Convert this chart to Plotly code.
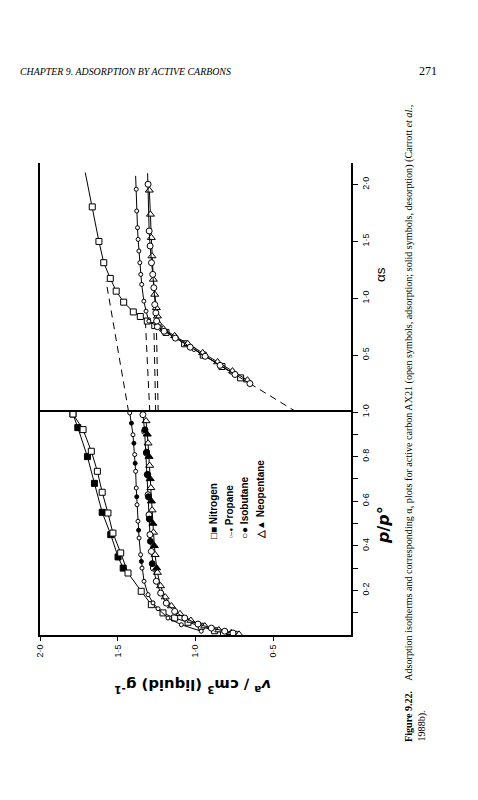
import plotly.graph_objects as go

# ---------------- data ----------------
# Isotherms: relative pressure p/p0 vs adsorbed volume v (cm3 liquid / g)
n2_ads_p = [0.003, 0.010, 0.019, 0.039, 0.057, 0.076, 0.099, 0.136, 0.196, 0.278, 0.368, 0.457, 0.547, 0.640, 0.734, 0.824, 0.921, 0.991]
n2_ads_v = [0.75, 0.82, 0.877, 0.963, 1.048, 1.134, 1.209, 1.284, 1.349, 1.434, 1.481, 1.531, 1.563, 1.600, 1.631, 1.670, 1.723, 1.788]
n2_des_p = [0.300, 0.350, 0.450, 0.550, 0.680, 0.800, 0.930, 0.991]
n2_des_v = [1.465, 1.498, 1.545, 1.600, 1.650, 1.695, 1.757, 1.788]

c3_ads_p = [0.017, 0.046, 0.076, 0.118, 0.144, 0.181, 0.241, 0.300, 0.360, 0.435, 0.510, 0.584, 0.659, 0.734, 0.809, 0.898, 0.996]
c3_ads_v = [0.963, 1.091, 1.177, 1.241, 1.273, 1.305, 1.331, 1.344, 1.353, 1.363, 1.370, 1.376, 1.381, 1.385, 1.391, 1.402, 1.423]
c3_des_p = [0.33, 0.47, 0.62, 0.77, 0.86, 0.95]
c3_des_v = [1.348, 1.366, 1.378, 1.388, 1.396, 1.412]

ib_ads_p = [0.009, 0.017, 0.031, 0.049, 0.076, 0.106, 0.143, 0.188, 0.241, 0.300, 0.375, 0.450, 0.539, 0.629, 0.719, 0.816, 0.913, 0.988]
ib_ads_v = [0.759, 0.812, 0.898, 0.984, 1.069, 1.134, 1.188, 1.224, 1.252, 1.271, 1.284, 1.293, 1.299, 1.305, 1.310, 1.316, 1.327, 1.338]
ib_des_p = [0.32, 0.42, 0.52, 0.62, 0.72, 0.82, 0.92]
ib_des_v = [1.278, 1.290, 1.297, 1.303, 1.308, 1.314, 1.325]

np_ads_p = [0.003, 0.010, 0.022, 0.040, 0.065, 0.095, 0.130, 0.170, 0.220, 0.280, 0.360, 0.460, 0.560, 0.660, 0.760, 0.860, 0.960]
np_ads_v = [0.72, 0.77, 0.85, 0.94, 1.03, 1.10, 1.155, 1.195, 1.225, 1.245, 1.26, 1.27, 1.279, 1.287, 1.295, 1.305, 1.318]
np_des_p = [0.30, 0.40, 0.50, 0.60, 0.70, 0.80, 0.90]
np_des_v = [1.25, 1.265, 1.274, 1.283, 1.291, 1.299, 1.31]

# alpha-s plots: alpha_s vs v
n2_as_a = [0.30, 0.40, 0.50, 0.60, 0.70, 0.76, 0.80, 0.84, 0.88, 0.966, 1.063, 1.175, 1.313, 1.500, 1.804]
n2_as_v = [0.71, 0.83, 0.95, 1.07, 1.19, 1.262, 1.31, 1.355, 1.40, 1.462, 1.51, 1.548, 1.59, 1.621, 1.664]
n2_as_top = (2.106, 1.709)

c3_as_a = [0.35, 0.55, 0.72, 0.799, 0.887, 0.975, 1.122, 1.210, 1.313, 1.416, 1.518, 1.621, 1.768, 1.959]
c3_as_v = [0.77, 1.01, 1.214, 1.30, 1.318, 1.332, 1.346, 1.352, 1.358, 1.364, 1.369, 1.373, 1.378, 1.381]
c3_as_top = (2.077, 1.385)

ib_as_a = [0.25, 0.33, 0.41, 0.49, 0.57, 0.65, 0.71, 0.75, 0.80, 0.872, 0.945, 1.093, 1.210, 1.313, 1.460, 1.592, 2.003]
ib_as_v = [0.65, 0.746, 0.842, 0.938, 1.034, 1.13, 1.202, 1.245, 1.25, 1.255, 1.262, 1.268, 1.275, 1.283, 1.292, 1.298, 1.305]
ib_as_top = (2.10, 1.308)

np_as_a = [0.28, 0.36, 0.44, 0.52, 0.60, 0.67, 0.73, 0.78, 0.843, 0.916, 1.034, 1.166, 1.372, 1.533, 1.738, 1.95]
np_as_v = [0.666, 0.762, 0.858, 0.954, 1.05, 1.134, 1.206, 1.238, 1.245, 1.252, 1.262, 1.271, 1.28, 1.284, 1.29, 1.297]

# dashed linear extrapolations (alpha_s, v)
fit_n2_a, fit_n2_v = [0.0, 1.15], [1.43, 1.575]
fit_c3_a, fit_c3_v = [0.0, 0.82], [1.294, 1.323]
fit_ib_a, fit_ib_v = [0.0, 0.78], [1.256, 1.268]
fit_np_a, fit_np_v = [0.0, 0.78], [1.240, 1.252]
fit_mp_a, fit_mp_v = [0.0, 0.25], [0.35, 0.65]

v_ticks = [2.0, 1.5, 1.0, 0.5]
v_ticktext = ["2·0", "1·5", "1·0", "0·5"]
p_ticks = [0.2, 0.4, 0.6, 0.8, 1.0]
p_ticktext = ["0·2", "0·4", "0·6", "0·8", "1·0"]
a_ticks = [0.5, 1.0, 1.5, 2.0]
a_ticktext = ["0·5", "1·0", "1·5", "2·0"]

legend_items = ["□■ Nitrogen", "<span style='font-size:6px'>○–●</span> Propane", "○● Isobutane", "△▲ Neopentane"]

# ---------------- layout geometry ----------------
W, H = 478, 800
L, R, T, B = 32, 135, 155, 173
PX0, PX1 = L, W - R
PY0, PY1 = T, H - B


def px(x):
    return (x - PX0) / (PX1 - PX0)


def py(y):
    return (PY1 - y) / (PY1 - PY0)


SPLIT = py(404)

fig = go.Figure()

BLACK = "black"


def add_series(xv, yv, yaxis, symbol, size, filled, line=True, extra=None):
    if line:
        lx, ly = list(xv), list(yv)
        if extra is not None:
            lx = lx + [extra[1]]
            ly = ly + [extra[0]]
        fig.add_trace(go.Scatter(x=lx, y=ly, yaxis=yaxis, mode="lines",
                                 line=dict(color=BLACK, width=1), hoverinfo="skip"))
    fig.add_trace(go.Scatter(x=xv, y=yv, yaxis=yaxis, mode="markers",
                             marker=dict(symbol=symbol, size=size,
                                         color=BLACK if filled else "white",
                                         line=dict(color=BLACK, width=1)),
                             hoverinfo="skip"))


def add_dash(xv, yv):
    fig.add_trace(go.Scatter(x=xv, y=yv, yaxis="y2", mode="lines",
                             line=dict(color=BLACK, width=1, dash="7px,5px"), hoverinfo="skip"))


# dashed extrapolations
add_dash(fit_n2_v, fit_n2_a)
add_dash(fit_c3_v, fit_c3_a)
add_dash(fit_ib_v, fit_ib_a)
add_dash(fit_np_v, fit_np_a)
add_dash(fit_mp_v, fit_mp_a)

# isotherms
add_series(n2_des_v, n2_des_p, "y", "square", 6, True)
add_series(n2_ads_v, n2_ads_p, "y", "square", 6, False)
add_series(c3_ads_v, c3_ads_p, "y", "circle", 4, False)
add_series(c3_des_v, c3_des_p, "y", "circle", 4, True, line=False)
add_series(np_ads_v, np_ads_p, "y", "triangle-up", 7, False)
add_series(ib_ads_v, ib_ads_p, "y", "circle", 6, False)
add_series(np_des_v, np_des_p, "y", "triangle-up", 7, True, line=False)
add_series(ib_des_v, ib_des_p, "y", "circle", 6, True, line=False)

# alpha-s plots
add_series(n2_as_v, n2_as_a, "y2", "square", 6, False, extra=n2_as_top)
add_series(c3_as_v, c3_as_a, "y2", "circle", 4, False, extra=c3_as_top)
add_series(np_as_v, np_as_a, "y2", "triangle-up", 7, False)
add_series(ib_as_v, ib_as_a, "y2", "circle", 6, False, extra=ib_as_top)

tickfont = dict(family="Liberation Sans", size=9, color=BLACK)

fig.update_layout(
    width=W, height=H,
    margin=dict(l=L, r=R, t=T, b=B, pad=0),
    paper_bgcolor="white", plot_bgcolor="white",
    showlegend=False,
    xaxis=dict(range=[2.0, 0.0], anchor="y", showline=True, linecolor=BLACK, linewidth=2,
               mirror=True, showgrid=False, zeroline=False, automargin=False,
               tickvals=v_ticks, ticktext=v_ticktext, tickangle=-90,
               ticks="outside", ticklen=4, tickcolor=BLACK, tickfont=tickfont),
    xaxis2=dict(range=[2.0, 0.0], overlaying="x", anchor="y2", side="top", showline=True,
                linecolor=BLACK, linewidth=1.5, mirror=True, showgrid=False, zeroline=False,
                showticklabels=False, ticks="", automargin=False),
    yaxis=dict(domain=[0, SPLIT], range=[0, 1.0], side="right", anchor="x", showline=True,
               linecolor=BLACK, linewidth=2, mirror=True, showgrid=False, zeroline=False,
               automargin=False,
               tickvals=p_ticks, ticktext=p_ticktext, tickangle=-90,
               ticks="outside", ticklen=5, tickcolor=BLACK, tickfont=tickfont,
               minor=dict(tickvals=[0.1, 0.3, 0.5, 0.7, 0.9], ticks="outside", ticklen=5,
                          tickcolor=BLACK)),
    yaxis2=dict(domain=[SPLIT, 1], range=[0, 2.19], side="right", anchor="x", showline=True,
                linecolor=BLACK, linewidth=2, mirror=True, showgrid=False, zeroline=False,
                automargin=False,
                tickvals=a_ticks, ticktext=a_ticktext, tickangle=-90,
                ticks="outside", ticklen=5, tickcolor=BLACK, tickfont=tickfont),
)

ann = []
# axis titles
ann.append(dict(x=px(375), y=py(517), xref="paper", yref="paper", text="<b><i>p</i>/<i>p</i>°</b>",
                textangle=-90, showarrow=False, font=dict(family="DejaVu Sans", size=16, color=BLACK),
                xanchor="center", yanchor="middle"))
ann.append(dict(x=px(372), y=py(267), xref="paper", yref="paper", text="αs",
                textangle=-90, showarrow=False, font=dict(family="Liberation Sans", size=13.5, color=BLACK),
                xanchor="center", yanchor="middle"))
ann.append(dict(x=px(185), y=py(679), xref="paper", yref="paper",
                text="<b><i>v</i><sup>a</sup> / cm<sup>3</sup> (liquid) g<sup>-1</sup></b>",
                textangle=180, showarrow=False, font=dict(family="DejaVu Sans", size=14.8, color=BLACK),
                xanchor="center", yanchor="middle"))
# legend
legend_x = [205, 220.5, 236.5, 252.5]
for xi, t in zip(legend_x, legend_items):
    ann.append(dict(x=px(xi), y=py(533), xref="paper", yref="paper", text="<b>" + t + "</b>",
                    textangle=-90, showarrow=False, font=dict(family="Liberation Sans", size=10, color=BLACK),
                    xanchor="center", yanchor="bottom"))
# header
ann.append(dict(x=px(10), y=py(63), xref="paper", yref="paper",
                text="<i>CHAPTER 9. ADSORPTION BY ACTIVE CARBONS</i>", showarrow=False,
                font=dict(family="Liberation Serif", size=9.9, color=BLACK), xanchor="left", yanchor="middle"))
ann.append(dict(x=px(419.5), y=py(63), xref="paper", yref="paper", text="271", showarrow=False,
                font=dict(family="Liberation Serif", size=12, color=BLACK), xanchor="center", yanchor="middle"))
# caption
cap1 = ("<b>Figure 9.22.</b>\u00a0\u00a0\u00a0\u00a0Adsorption isotherms and corresponding α<sub>s</sub> plots for active carbon AX21 "
        "(open symbols, adsorption; solid symbols, desorption) (Carrott <i>et al.</i>,")
ann.append(dict(x=px(401.5), y=py(736), xref="paper", yref="paper", text=cap1, textangle=-90, showarrow=False,
                font=dict(family="Liberation Serif", size=10.1, color=BLACK), xanchor="center", yanchor="bottom"))
ann.append(dict(x=px(413), y=py(736), xref="paper", yref="paper", text="1988b).", textangle=-90, showarrow=False,
                font=dict(family="Liberation Serif", size=10.1, color=BLACK), xanchor="center", yanchor="bottom"))

fig.update_layout(annotations=ann)
fig.write_html("out.html")
